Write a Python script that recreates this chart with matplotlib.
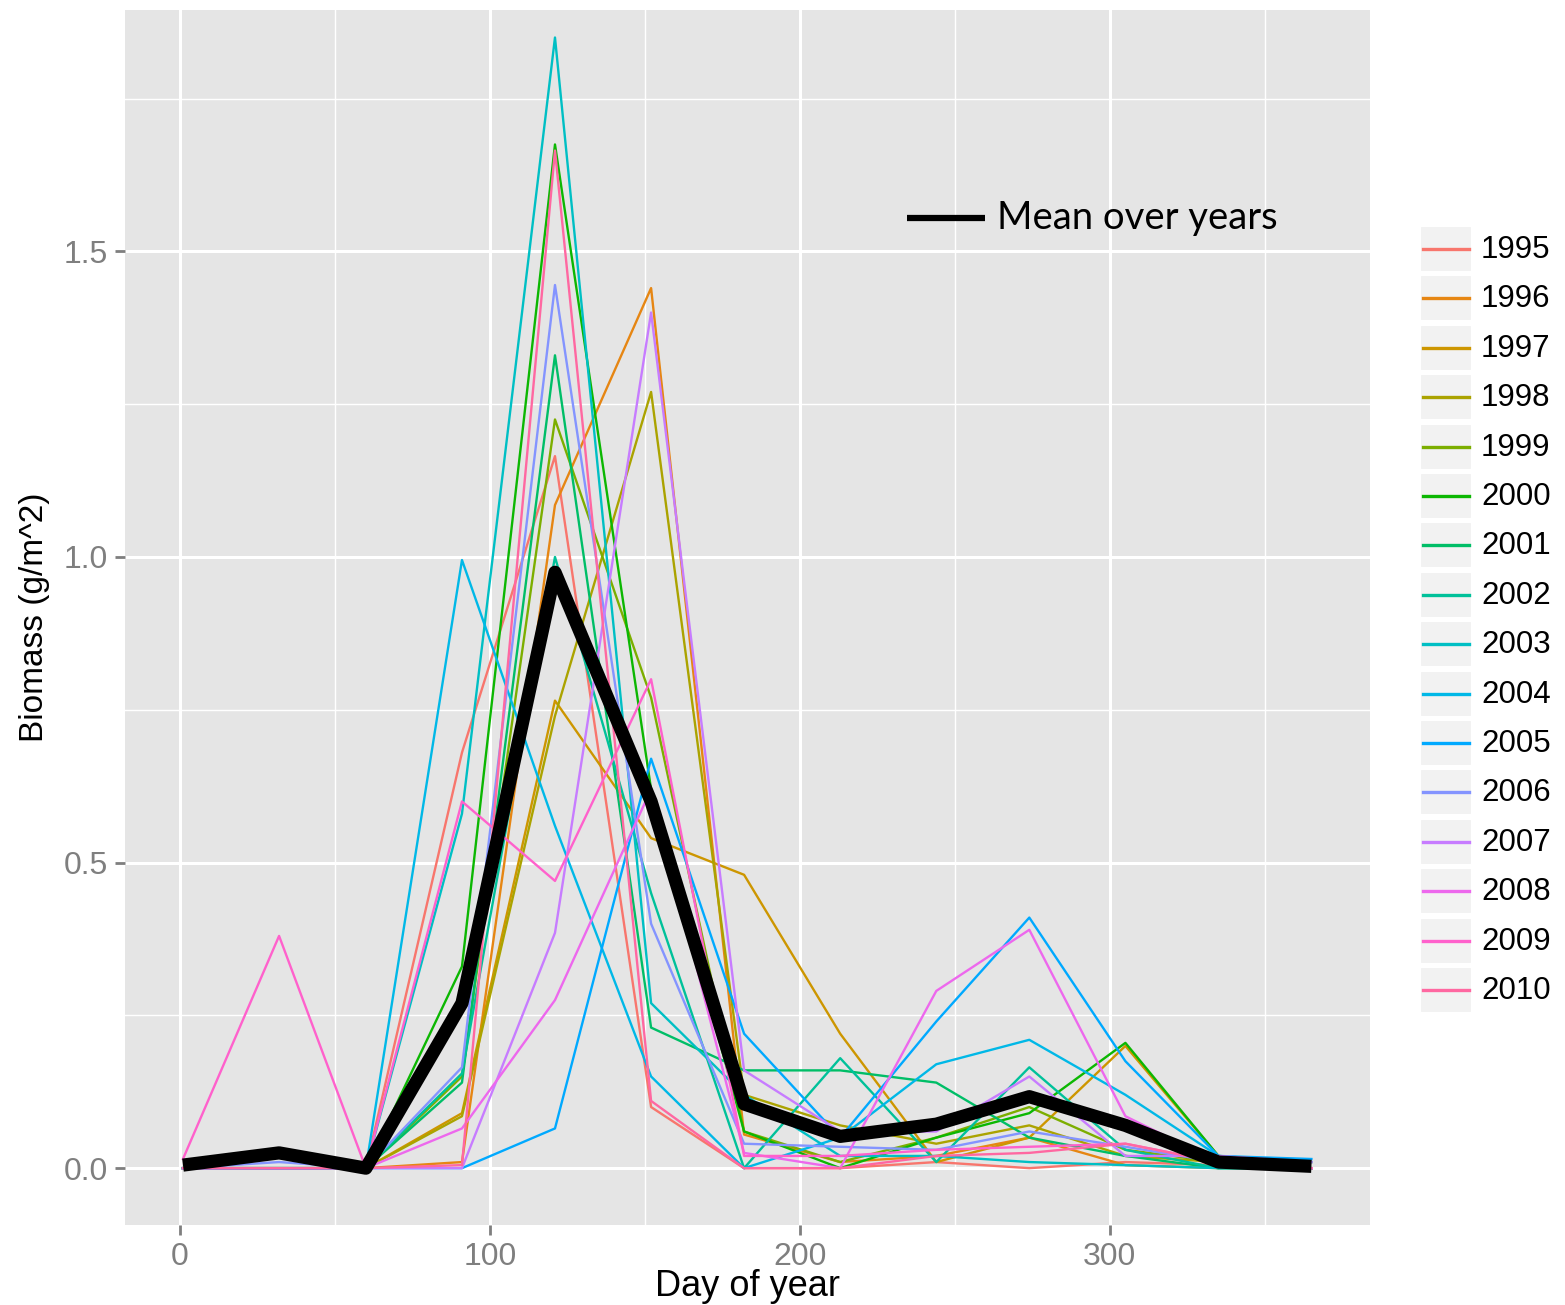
import numpy as np
import matplotlib
matplotlib.use("Agg")
import matplotlib.pyplot as plt
from matplotlib.patches import Rectangle
from matplotlib.ticker import MultipleLocator

# sampling days (monthly)
days = [1, 32, 60, 91, 121, 152, 182, 213, 244, 274, 305, 335, 365]

y1995 = [0.00, 0.00, 0.00, 0.68, 1.165, 0.10, 0.00, 0.00, 0.01, 0.00, 0.01, 0.005, 0.00]
y1996 = [0.00, 0.00, 0.00, 0.01, 1.085, 1.44, 0.055, 0.01, 0.02, 0.05, 0.005, 0.00, 0.00]
y1997 = [0.00, 0.00, 0.00, 0.09, 0.765, 0.54, 0.48, 0.22, 0.01, 0.05, 0.20, 0.02, 0.01]
y1998 = [0.00, 0.00, 0.00, 0.085, 0.74, 1.27, 0.12, 0.07, 0.04, 0.07, 0.02, 0.01, 0.00]
y1999 = [0.00, 0.00, 0.00, 0.15, 1.225, 0.77, 0.06, 0.01, 0.05, 0.10, 0.03, 0.01, 0.00]
y2000 = [0.00, 0.00, 0.00, 0.33, 1.675, 0.62, 0.06, 0.00, 0.05, 0.09, 0.205, 0.02, 0.00]
y2001 = [0.00, 0.00, 0.00, 0.14, 1.33, 0.23, 0.16, 0.16, 0.14, 0.05, 0.02, 0.00, 0.00]
y2002 = [0.00, 0.00, 0.00, 0.155, 1.00, 0.45, 0.00, 0.18, 0.01, 0.165, 0.03, 0.00, 0.00]
y2003 = [0.00, 0.00, 0.00, 0.58, 1.85, 0.27, 0.12, 0.02, 0.02, 0.01, 0.005, 0.00, 0.00]
y2004 = [0.00, 0.00, 0.00, 0.995, 0.56, 0.15, 0.00, 0.05, 0.17, 0.21, 0.12, 0.02, 0.01]
y2005 = [0.00, 0.00, 0.00, 0.00, 0.065, 0.67, 0.22, 0.05, 0.24, 0.41, 0.175, 0.02, 0.015]
y2006 = [0.00, 0.01, 0.00, 0.165, 1.445, 0.40, 0.04, 0.035, 0.03, 0.06, 0.035, 0.01, 0.00]
y2007 = [0.00, 0.00, 0.00, 0.00, 0.385, 1.40, 0.16, 0.06, 0.06, 0.15, 0.02, 0.02, 0.01]
y2008 = [0.00, 0.00, 0.00, 0.065, 0.275, 0.62, 0.025, 0.00, 0.29, 0.39, 0.085, 0.01, 0.00]
y2009 = [0.015, 0.38, 0.00, 0.60, 0.47, 0.80, 0.02, 0.02, 0.03, 0.035, 0.04, 0.01, 0.00]
y2010 = [0.00, 0.00, 0.00, 0.005, 1.665, 0.11, 0.00, 0.00, 0.02, 0.025, 0.04, 0.01, 0.00]

mean_biomass = [0.005, 0.025, 0.00, 0.27, 0.975, 0.60, 0.105, 0.052, 0.072, 0.117, 0.07, 0.01, 0.003]

years = ["1995", "1996", "1997", "1998", "1999", "2000", "2001", "2002",
         "2003", "2004", "2005", "2006", "2007", "2008", "2009", "2010"]
series = [y1995, y1996, y1997, y1998, y1999, y2000, y2001, y2002,
          y2003, y2004, y2005, y2006, y2007, y2008, y2009, y2010]


def hue_colours(n, l=65, c=100, h0=15):
    # ggplot2 default discrete palette (HCL -> sRGB)
    Xn, Yn, Zn = 95.047, 100.0, 108.883
    un = 4 * Xn / (Xn + 15 * Yn + 3 * Zn)
    vn = 9 * Yn / (Xn + 15 * Yn + 3 * Zn)
    cols = []
    for i in range(n):
        h = np.radians(h0 + i * 360.0 / n)
        u, v = c * np.cos(h), c * np.sin(h)
        Y = Yn * ((l + 16) / 116.0) ** 3
        up = u / (13 * l) + un
        vp = v / (13 * l) + vn
        X = 9 * Y * up / (4 * vp)
        Z = Y * (12 - 3 * up - 20 * vp) / (4 * vp)
        X, Y, Z = X / 100, Y / 100, Z / 100
        r = 3.240479 * X - 1.537150 * Y - 0.498535 * Z
        g = -0.969256 * X + 1.875992 * Y + 0.041556 * Z
        b = 0.055648 * X - 0.204043 * Y + 1.057311 * Z
        rgb = []
        for t in (r, g, b):
            t = 12.92 * t if t <= 0.0031308 else 1.055 * t ** (1 / 2.4) - 0.055
            rgb.append(min(max(t, 0.0), 1.0))
        cols.append(tuple(rgb))
    return cols


colours = hue_colours(len(years))
W, H = 1565, 1305

fig = plt.figure(figsize=(W / 100, H / 100), dpi=100)
ax = fig.add_axes([125 / W, 1 - 1225 / H, (1370 - 125) / W, (1225 - 10) / H])
ax.set_facecolor("#E5E5E5")

for vals, col in zip(series, colours):
    ax.plot(days, vals, color=col, lw=1.7, zorder=3)
ax.plot(days, mean_biomass, color="black", lw=9.5, zorder=4,
        solid_joinstyle="round", solid_capstyle="butt")

ax.set_xlim(-17.7, 383.9)
ax.set_ylim(-0.093, 1.895)
ax.xaxis.set_major_locator(MultipleLocator(100))
ax.xaxis.set_minor_locator(MultipleLocator(50))
ax.yaxis.set_minor_locator(MultipleLocator(0.25))
ax.set_yticks([0, 0.5, 1.0, 1.5])
ax.set_yticklabels(["0.0", "0.5", "1.0", "1.5"])
ax.grid(which="major", color="white", lw=2.2, zorder=0)
ax.grid(which="minor", color="white", lw=1.0, zorder=0)
ax.set_axisbelow(True)
for s in ax.spines.values():
    s.set_visible(False)
ax.tick_params(which="major", length=7, width=2, color="#7F7F7F",
               labelcolor="#7F7F7F", labelsize=23, pad=5)
ax.tick_params(which="minor", length=0)
for lab in ax.get_xticklabels() + ax.get_yticklabels():
    lab.set_family("Liberation Sans")

ax.set_xlabel("Day of year", fontsize=26, family="Liberation Sans", labelpad=-2)
ax.set_ylabel("Biomass (g/m^2)", fontsize=24, family="Liberation Sans", labelpad=10)

# overlay in pixel coordinates for the legend and the annotation
ov = fig.add_axes([0, 0, 1, 1])
ov.set_xlim(0, W)
ov.set_ylim(H, 0)
ov.axis("off")
ov.patch.set_visible(False)

ov.plot([907, 985], [218, 218], color="black", lw=4.5, solid_capstyle="butt")
ov.text(997, 218, "Mean over years", fontsize=27.5, family="Lato",
        va="center", ha="left", color="black")

step = 49.4
for i, (yr, col) in enumerate(zip(years, colours)):
    yc = 249 + i * step
    ov.add_patch(Rectangle((1420, yc - 23), 52, 46, facecolor="#F2F2F2",
                           edgecolor="white", lw=1.5))
    ov.plot([1423, 1469], [yc, yc], color=col, lw=2.4)
    ov.text(1481, yc + 1, yr, fontsize=22.5, family="Liberation Sans",
            va="center", ha="left", color="black")

fig.savefig("out.png", dpi=100, facecolor="white")
